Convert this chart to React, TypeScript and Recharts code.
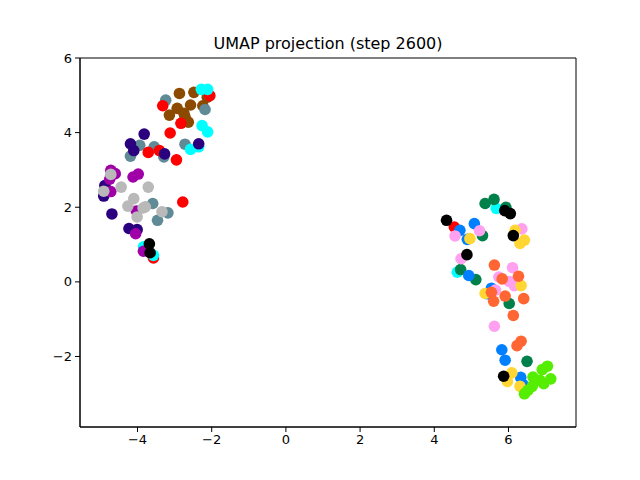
import { ScatterChart, Scatter, XAxis, YAxis, ReferenceArea } from "recharts";

type P = { x: number; y: number };
const pts = (a: number[][]): P[] => a.map(([x, y]) => ({ x, y }));

// point groups, one per colour class
const brown = pts([[-2.87, 5.05], [-2.48, 5.08], [-2.12, 4.95], [-2.57, 4.74], [-2.24, 4.72], [-2.93, 4.65], [-2.75, 4.52], [-3.14, 4.47], [-2.63, 4.28], [-2.72, 4.42]]);
const red = pts([[-2.05, 4.99], [-3.32, 4.72], [-2.83, 4.25], [-3.12, 3.99], [-3.71, 3.47], [-3.41, 3.52], [-2.95, 3.27], [-2.78, 2.14], [-3.57, 0.64], [4.54, 1.47]]);
const cyan = pts([[-2.28, 5.16], [-2.11, 5.16], [-2.26, 4.19], [-2.11, 4.02], [-2.57, 3.55], [-2.35, 3.62], [-3.84, 0.94], [-3.57, 0.71], [5.67, 1.97], [4.62, 0.26]]);
const slate = pts([[-3.24, 4.87], [-2.18, 4.62], [-2.72, 3.69], [-3.94, 3.66], [-3.55, 3.62], [-4.19, 3.37], [-3.29, 3.35], [-3.59, 2.1], [-3.18, 1.85], [-3.46, 1.65]]);
const indigo = pts([[-3.82, 3.96], [-4.19, 3.7], [-4.1, 3.52], [-3.27, 3.43], [-2.35, 3.7], [-4.88, 2.58], [-4.91, 2.3], [-4.69, 1.82], [-4.23, 1.43], [-4.01, 1.4]]);
const purple = pts([[-4.72, 2.99], [-4.6, 2.9], [-4.75, 2.75], [-4.12, 2.81], [-3.98, 2.89], [-4.72, 2.42], [-4.03, 1.9], [-4.05, 1.29], [-3.84, 0.82]]);
const silver = pts([[-4.72, 2.88], [-4.91, 2.43], [-4.44, 2.54], [-3.71, 2.54], [-4.1, 2.23], [-4.26, 2.03], [-3.79, 2.01], [-4.01, 1.74], [-3.34, 1.88], [-3.85, 1.98]]);
const black = pts([[-3.68, 1.02], [-3.66, 0.78], [4.33, 1.65], [5.9, 1.91], [6.05, 1.83], [6.13, 1.24], [4.88, 0.73], [5.87, -2.53]]);
const green = pts([[5.37, 2.1], [5.61, 2.21], [5.93, 2.0], [5.3, 1.24], [4.71, 0.33], [5.12, 0.06], [6.02, -0.58], [6.5, -2.13]]);
const blue = pts([[4.69, 1.38], [5.08, 1.56], [4.89, 1.14], [4.93, 0.17], [5.54, -0.17], [5.43, -0.32], [5.82, -1.82], [5.91, -2.1], [6.33, -2.56], [6.39, -2.75]]);
const pink = pts([[4.56, 1.23], [5.22, 1.37], [6.36, 1.42], [4.72, 0.62], [6.11, 0.38], [5.74, 0.13], [6.02, 0.01], [6.16, -0.1], [5.65, -0.22], [5.62, -1.19]]);
const yellow = pts([[6.18, 1.38], [6.31, 1.03], [6.43, 1.12], [4.96, 1.16], [6.34, -0.1], [5.37, -0.31], [6.09, -2.44], [5.97, -2.67], [6.31, -2.8]]);
const orange = pts([[5.62, 0.45], [5.83, 0.08], [6.27, 0.15], [5.54, -0.28], [5.91, -0.38], [6.41, -0.45], [5.6, -0.52], [6.13, -0.9], [6.34, -1.59], [6.23, -1.71]]);
const lime = pts([[7.05, -2.26], [6.91, -2.35], [6.66, -2.55], [6.85, -2.64], [7.14, -2.6], [6.95, -2.73], [6.64, -2.8], [6.52, -2.91], [6.43, -3.0]]);

const series: [P[], string][] = [
  [brown, "#8b4a00"],
  [slate, "#5f8a96"],
  [red, "#ff0000"],
  [cyan, "#00ffff"],
  [indigo, "#2a007f"],
  [purple, "#a000a8"],
  [silver, "#b9b9b9"],
  [green, "#00804a"],
  [blue, "#0080ff"],
  [pink, "#ffa0f0"],
  [yellow, "#ffd633"],
  [orange, "#ff6633"],
  [lime, "#55ee00"],
  [black, "#000000"],
];

const xTicks = [-4, -2, 0, 2, 4, 6];
const yTicks = [-2, 0, 2, 4, 6];
const xDomain = [-5.55, 7.82];
const yDomain = [-3.89, 6.0];

const fmt = (v: number) => (v < 0 ? `\u2212${Math.abs(v)}` : `${v}`);
const tickStyle = { fill: "#000", fontSize: 13, fontFamily: "DejaVu Sans" };

const dot = (color: string) => (props: any) => (
  <circle cx={props.cx} cy={props.cy} r={5.8} fill={color} />
);

export default function App() {
  return (
    <div style={{ position: "absolute", left: 0, top: 0, width: 640, height: 480, background: "#fff" }}>
      <div style={{ position: "absolute", top: 34, left: 80, width: 496, textAlign: "center", fontFamily: "DejaVu Sans", fontSize: 16 }}>
        UMAP projection (step 2600)
      </div>
      <ScatterChart width={640} height={480} margin={{ top: 58, right: 64, bottom: 23, left: 40 }}>
        <XAxis type="number" dataKey="x" domain={xDomain} ticks={xTicks} tickFormatter={fmt} height={30} tick={tickStyle} tickSize={5} tickMargin={3} tickLine={{ stroke: "#000" }} axisLine={{ stroke: "#000" }} allowDataOverflow />
        <YAxis type="number" dataKey="y" domain={yDomain} ticks={yTicks} tickFormatter={fmt} width={40} tick={tickStyle} tickSize={5} tickMargin={3} tickLine={{ stroke: "#000" }} axisLine={{ stroke: "#000" }} allowDataOverflow />
        <ReferenceArea x1={xDomain[0]} x2={xDomain[1]} y1={yDomain[0]} y2={yDomain[1]} fill="none" fillOpacity={0} stroke="#000" strokeWidth={1} />
        {series.map(([d, c], i) => (
          <Scatter key={i} data={d} fill={c} shape={dot(c)} isAnimationActive={false} />
        ))}
      </ScatterChart>
    </div>
  );
}
